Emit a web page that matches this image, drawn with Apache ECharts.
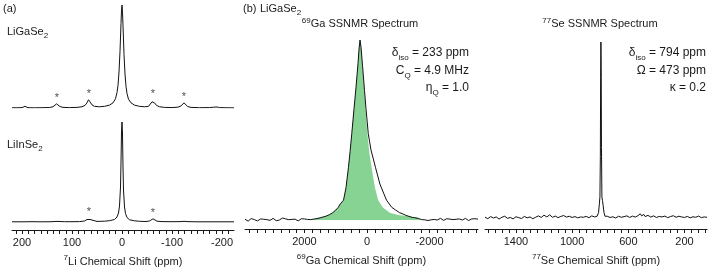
<!DOCTYPE html>
<html>
<head>
<meta charset="utf-8">
<script src="https://cdn.jsdelivr.net/npm/echarts@6/dist/echarts.min.js"></script>
<style>
html,body{margin:0;padding:0;background:#fff;}
#c{width:709px;height:268px;}
</style>
</head>
<body>
<div id="c"></div>
<script>
// ---------- data (ppm, normalised intensity) ----------
const LIGASE2_SPEC = [[220,0.003],[210,0.002],[200,0.004],[196,0.01],[194,0.016],[192,0.01],[188,0.003],[175,0.002],[160,0.003],[145,0.005],[138,0.012],[134,0.025],[131,0.04],[128,0.03],[124,0.014],[118,0.006],[105,0.004],[90,0.006],[80,0.012],[74,0.025],[70,0.05],[67,0.08],[64,0.06],[60,0.03],[55,0.016],[45,0.012],[35,0.016],[25,0.028],[18,0.05],[13,0.09],[10,0.15],[8,0.22],[6,0.35],[4,0.55],[2,0.82],[1,0.95],[0,1.0],[-1,0.93],[-2,0.8],[-4,0.52],[-6,0.33],[-8,0.21],[-10,0.14],[-13,0.085],[-18,0.05],[-25,0.028],[-35,0.016],[-45,0.012],[-53,0.016],[-57,0.03],[-60,0.06],[-62,0.075],[-65,0.05],[-69,0.025],[-75,0.012],[-85,0.006],[-100,0.004],[-112,0.008],[-118,0.02],[-121,0.035],[-124,0.05],[-127,0.035],[-131,0.015],[-138,0.006],[-155,0.003],[-175,0.004],[-183,0.008],[-187,0.014],[-190,0.01],[-195,0.004],[-210,0.002],[-224,0.002]];
const LIINSE2_SPEC = [[220,0.002],[200,0.002],[180,0.003],[160,0.002],[140,0.003],[132,0.006],[128,0.008],[124,0.005],[115,0.003],[100,0.003],[85,0.004],[75,0.01],[70,0.025],[67,0.04],[64,0.025],[60,0.01],[50,0.006],[35,0.008],[25,0.013],[15,0.025],[10,0.05],[7,0.09],[5,0.16],[3,0.35],[2,0.6],[1,0.9],[0,1.0],[-1,0.88],[-2,0.55],[-3,0.32],[-5,0.15],[-7,0.085],[-10,0.045],[-15,0.022],[-25,0.012],[-35,0.007],[-48,0.005],[-55,0.01],[-59,0.022],[-62,0.032],[-65,0.02],[-70,0.008],[-80,0.004],[-100,0.003],[-118,0.004],[-124,0.007],[-130,0.004],[-150,0.002],[-180,0.002],[-224,0.002]];
const LIGASE2_STARS = [[130,0.04],[66,0.08],[-62,0.075],[-124,0.05]];
const LIINSE2_STARS = [[66,0.04],[-62,0.032]];

const GA_EXP = [[3900,0.004],[3850,-0.002],[3800,-0.006],[3750,0.003],[3700,0.008],[3650,-0.001],[3600,0.002],[3550,0.007],[3500,-0.005],[3450,0.001],[3400,0.006],[3350,0.01],[3300,0.004],[3250,-0.003],[3200,0.002],[3150,0.008],[3100,-0.002],[3050,0.005],[3000,0.009],[2950,0.001],[2900,-0.004],[2850,0.004],[2800,0.0],[2750,0.007],[2700,0.011],[2650,0.003],[2600,0.006],[2550,-0.003],[2500,0.002],[2450,0.008],[2400,0.003],[2350,-0.002],[2300,0.005],[2250,0.001],[2200,-0.005],[2150,0.004],[2100,0.007],[2050,0.0],[2000,0.006],[1950,-0.002],[1900,0.003],[1850,0.006],[1800,0.002],[1750,0.008],[1700,0.005],[1650,0.01],[1600,0.008],[1550,0.014],[1500,0.012],[1450,0.018],[1400,0.017],[1350,0.023],[1300,0.022],[1250,0.029],[1200,0.03],[1150,0.036],[1100,0.04],[1050,0.047],[1000,0.055],[920,0.07],[850,0.09],[750,0.11],[670,0.18],[594,0.29],[540,0.38],[486,0.48],[413,0.62],[349,0.74],[286,0.87],[254,0.95],[222,1.0],[190,0.96],[143,0.86],[79,0.72],[32,0.62],[-41,0.48],[-127,0.39],[-276,0.29],[-413,0.2],[-530,0.15],[-625,0.11],[-794,0.07],[-920,0.055],[-1048,0.04],[-1120,0.036],[-1180,0.03],[-1240,0.026],[-1302,0.02],[-1380,0.018],[-1450,0.014],[-1520,0.013],[-1578,0.01],[-1640,0.009],[-1700,0.006],[-1750,0.002],[-1800,0.008],[-1850,0.001],[-1900,0.004],[-1950,-0.003],[-2000,0.005],[-2050,0.001],[-2100,-0.005],[-2150,0.003],[-2200,0.007],[-2250,0.0],[-2300,0.004],[-2350,0.009],[-2400,0.003],[-2450,-0.002],[-2500,0.002],[-2550,0.007],[-2600,0.001],[-2650,0.005],[-2700,0.01],[-2750,0.002],[-2800,-0.003],[-2850,0.004],[-2900,-0.001],[-2950,0.006],[-3000,0.008],[-3050,0.0],[-3100,0.004],[-3150,0.009],[-3200,0.003],[-3250,-0.003],[-3300,0.002],[-3350,0.006],[-3400,0.001],[-3450,0.007],[-3500,0.002],[-3550,0.005]];
const GA_SIM = [[1900,0],[1800,0.003],[1700,0.006],[1600,0.01],[1500,0.014],[1400,0.018],[1300,0.024],[1200,0.03],[1100,0.04],[1000,0.055],[920,0.07],[850,0.09],[750,0.11],[670,0.18],[594,0.29],[540,0.38],[486,0.48],[413,0.62],[349,0.74],[286,0.87],[254,0.95],[222,1.0],[190,0.96],[143,0.85],[79,0.7],[-10,0.48],[-79,0.37],[-149,0.29],[-254,0.18],[-359,0.11],[-508,0.07],[-730,0.04],[-984,0.028],[-1302,0.022],[-1578,0.015],[-1650,0.008],[-1737,0]];

const SE_EXP = [[1620,0.005],[1610,0.0],[1600,-0.004],[1590,0.003],[1580,0.008],[1570,0.002],[1560,0.0],[1550,0.007],[1540,0.006],[1530,-0.002],[1520,-0.006],[1510,0.001],[1500,0.004],[1490,0.0],[1480,0.01],[1470,0.004],[1460,-0.002],[1450,0.005],[1440,0.003],[1430,0.008],[1420,-0.005],[1410,0.002],[1400,0.007],[1390,0.0],[1380,0.002],[1370,0.006],[1360,-0.003],[1350,0.004],[1340,0.009],[1330,0.003],[1320,0.001],[1310,0.008],[1300,0.006],[1290,0.0],[1280,-0.004],[1270,0.005],[1260,0.004],[1250,0.01],[1240,0.012],[1230,0.002],[1220,0.003],[1210,0.009],[1200,0.016],[1190,0.005],[1180,0.006],[1170,0.013],[1160,0.018],[1150,0.007],[1140,0.004],[1130,0.01],[1120,0.011],[1110,0.003],[1100,0.002],[1090,0.008],[1080,0.009],[1070,0.004],[1060,0.014],[1050,0.007],[1040,0.005],[1030,0.012],[1020,0.01],[1010,0.002],[1000,0.003],[990,0.009],[980,0.008],[970,0.002],[960,0.001],[950,0.007],[940,0.006],[930,0.0],[920,0.004],[910,0.01],[900,0.009],[890,0.003],[880,0.002],[870,0.008],[860,0.012],[850,0.004],[840,0.006],[830,0.015],[822,0.01],[812,0.03],[806,0.08],[802,0.12],[799,0.35],[797,0.8],[795,1.0],[793,0.85],[791,0.4],[788,0.12],[784,0.1],[779,0.07],[773,0.03],[766,0.01],[760,0.004],[750,0.01],[740,0.008],[730,0.003],[720,0.001],[710,0.007],[700,0.006],[690,0.0],[680,0.003],[670,0.01],[660,0.009],[650,0.004],[640,0.002],[630,0.008],[620,0.007],[610,0.012],[600,0.011],[590,0.003],[580,0.004],[570,0.011],[560,0.013],[550,0.005],[540,0.006],[530,0.014],[520,0.018],[515,0.024],[510,0.034],[505,0.012],[500,0.01],[495,0.022],[490,0.02],[485,0.009],[480,0.008],[470,0.016],[460,0.015],[450,0.006],[440,0.005],[430,0.013],[420,0.012],[410,0.004],[400,0.003],[390,0.011],[380,0.009],[370,0.002],[360,0.006],[350,0.012],[340,0.011],[330,0.004],[320,0.002],[310,0.009],[300,0.008],[290,0.003],[280,0.013],[270,0.006],[260,0.004],[250,0.011],[240,0.01],[230,0.002],[220,0.006],[210,0.009],[200,0.003],[190,0.001],[180,0.009],[170,0.005],[160,0.001],[150,0.008],[140,0.007],[130,0.0],[120,0.004],[110,0.01],[100,0.011],[90,0.004],[80,0.002],[70,0.008],[60,0.006],[50,0.001],[40,0.004]];

// ---------- ticks ----------
const LI_TICKS = [212.5,200,187.5,175,162.5,150,137.5,125,112.5,100,87.5,75,62.5,50,37.5,25,12.5,0,-12.5,-25,-37.5,-50,-62.5,-75,-87.5,-100,-112.5,-125,-137.5,-150,-162.5,-175,-187.5,-200,-212.5];
const LI_LABELS = [200,100,0,-100,-200];
const GA_TICKS = [3750,3500,3250,3000,2750,2500,2250,2000,1750,1500,1250,1000,750,500,250,0,-250,-500,-750,-1000,-1250,-1500,-1750,-2000,-2250,-2500,-2750,-3000,-3250,-3500];
const GA_LABELS = [2000,0,-2000];
const SE_TICKS = [1600,1550,1500,1450,1400,1350,1300,1250,1200,1150,1100,1050,1000,950,900,850,800,750,700,650,600,550,500,450,400,350,300,250,200,150,100,50];
const SE_LABELS = [1400,1000,600,200];

// ---------- text ----------
const FONT = '"Liberation Sans", Arial, sans-serif';
const INK = '#1a1a1a';
const RICH = {
  m:   {fontSize:11, lineHeight:15, fontFamily:FONT, color:INK, fill:INK},
  sub: {fontSize:8, lineHeight:8, verticalAlign:'bottom', fontFamily:FONT, color:INK, fill:INK},
  sup: {fontSize:8, lineHeight:10, verticalAlign:'top', fontFamily:FONT, color:INK, fill:INK},
  a:   {fontSize:12, lineHeight:17, fontFamily:FONT, color:INK, fill:INK},
  asub:{fontSize:8, lineHeight:8, verticalAlign:'bottom', fontFamily:FONT, color:INK, fill:INK}
};

function txt(x, y, text, align) {
  return {type:'text', x:x, y:y, silent:true,
    style:{text:text, align:align||'left', verticalAlign:'middle', rich:RICH, fill:INK, font:'11px '+FONT}};
}

function xAx(grid, min, max, ticks, labels, name, show) {
  return {
    type:'value', gridIndex:grid, min:min, max:max, inverse:true, show:show,
    axisLine:{show:true, onZero:false, lineStyle:{color:INK, width:1}},
    axisTick:{show:true, inside:false, length:4, customValues:ticks, lineStyle:{color:INK, width:1}},
    axisLabel:{show:true, customValues:labels, margin:7, fontSize:11, fontFamily:FONT, color:INK,
      formatter:function(v){return String(v);}},
    splitLine:{show:false},
    name:name, nameLocation:'middle', nameGap:24,
    nameTextStyle:{fontSize:11, fontFamily:FONT, color:INK, rich:RICH}
  };
}
function yAx(grid, min, max) {
  return {type:'value', gridIndex:grid, min:min, max:max, show:false, splitLine:{show:false}};
}
function spec(xi, data) {
  return {type:'line', xAxisIndex:xi, yAxisIndex:xi, data:data, showSymbol:false, symbol:'none',
    lineStyle:{color:'#111', width:1}, silent:true, z:3};
}
function stars(xi, data) {
  return {type:'scatter', xAxisIndex:xi, yAxisIndex:xi, data:data, symbolSize:1,
    itemStyle:{color:'rgba(0,0,0,0)'}, silent:true,
    label:{show:true, formatter:'*', position:'top', distance:0, fontSize:11, fontFamily:FONT, color:INK}};
}

const chart = echarts.init(document.getElementById('c'), null, {renderer:'canvas'});
chart.setOption({
  animation:false,
  backgroundColor:'#fff',
  grid:[
    {left:12, width:222, top:5, height:103, outerBoundsMode:'none'},
    {left:12, width:222, top:122, height:108, outerBoundsMode:'none'},
    {left:245, width:233, top:40, height:189, outerBoundsMode:'none'},
    {left:485, width:222, top:42, height:187, outerBoundsMode:'none'}
  ],
  xAxis:[
    xAx(0,-224,220,LI_TICKS,LI_LABELS,'',false),
    xAx(1,-224,220,LI_TICKS,LI_LABELS,'{sup|7}{m|Li Chemical Shift (ppm)}',true),
    xAx(2,-3550,3900,GA_TICKS,GA_LABELS,'{sup|69}{m|Ga Chemical Shift (ppm)}',true),
    xAx(3,40,1620,SE_TICKS,SE_LABELS,'{sup|77}{m|Se Chemical Shift (ppm)}',true)
  ],
  yAxis:[ yAx(0,0,1), yAx(1,-0.08,1), yAx(2,-0.05,1), yAx(3,-0.0625,1) ],
  series:[
    spec(0, LIGASE2_SPEC),
    spec(1, LIINSE2_SPEC),
    stars(0, LIGASE2_STARS),
    stars(1, LIINSE2_STARS),
    {type:'line', xAxisIndex:2, yAxisIndex:2, data:GA_SIM, showSymbol:false, symbol:'none',
      lineStyle:{width:0, color:'#86d394'}, areaStyle:{color:'#86d394', opacity:1}, silent:true, z:2},
    spec(2, GA_EXP),
    spec(3, SE_EXP)
  ],
  graphic:[
    txt(3, 9, '{m|(a)}'),
    txt(7, 32, '{m|LiGaSe}{sub|2}'),
    txt(7, 145, '{m|LiInSe}{sub|2}'),
    txt(243, 9, '{m|(b)}'),
    txt(260, 9, '{m|LiGaSe}{sub|2}'),
    txt(360, 24, '{sup|69}{m|Ga SSNMR Spectrum}', 'center'),
    txt(600, 24, '{sup|77}{m|Se SSNMR Spectrum}', 'center'),
    txt(469, 53, '{a|δ}{asub|iso}{a| = 233 ppm}', 'right'),
    txt(469, 71, '{a|C}{asub|Q}{a| = 4.9 MHz}', 'right'),
    txt(469, 88, '{a|η}{asub|Q}{a| = 1.0}', 'right'),
    txt(706, 53, '{a|δ}{asub|iso}{a| = 794 ppm}', 'right'),
    txt(706, 71, '{a|Ω = 473 ppm}', 'right'),
    txt(706, 88, '{a|κ = 0.2}', 'right')
  ]
});
</script>
</body>
</html>
